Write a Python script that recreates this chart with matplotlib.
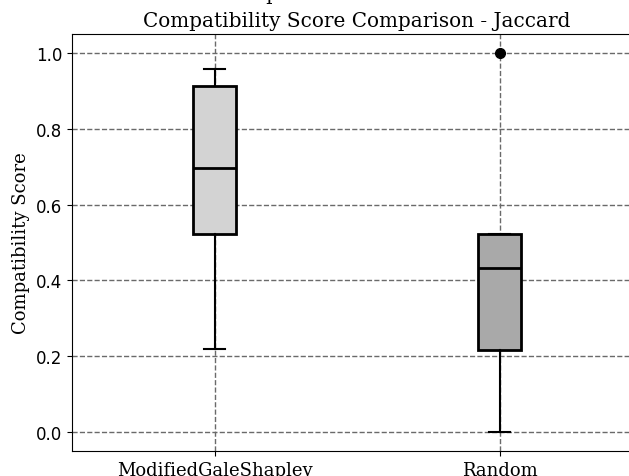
import matplotlib
matplotlib.use('Agg')
import matplotlib.pyplot as plt

# box statistics per algorithm
algorithms = ['ModifiedGaleShapley', 'Random']
q1 = [0.522, 0.216]
medians = [0.697, 0.434]
q3 = [0.914, 0.522]
whisker_low = [0.218, 0.0]
whisker_high = [0.958, 0.522]
outliers = [[], [1.0]]
box_colors = ['lightgray', 'darkgray']

stats = []
for i, name in enumerate(algorithms):
    stats.append({'label': name, 'q1': q1[i], 'med': medians[i], 'q3': q3[i],
                  'whislo': whisker_low[i], 'whishi': whisker_high[i],
                  'fliers': outliers[i]})

fig = plt.figure(figsize=(6.29, 4.77), dpi=100)
ax = fig.add_axes([0.1145, 0.0524, 0.9062, 0.8742])

bp = ax.bxp(stats, widths=0.15, patch_artist=True,
            boxprops=dict(linewidth=2, edgecolor='black'),
            medianprops=dict(color='black', linewidth=2),
            whiskerprops=dict(color='black', linewidth=1.5),
            capprops=dict(color='black', linewidth=1.5),
            flierprops=dict(marker='o', markerfacecolor='black',
                            markeredgecolor='black', markersize=7))
for patch, c in zip(bp['boxes'], box_colors):
    patch.set_facecolor(c)

ax.set_xlim(0.5, 2.5)
ax.set_ylim(-0.05, 1.05)
ax.grid(True, linestyle='--', color='#6a6a6a', linewidth=1.0)
ax.set_axisbelow(True)

# upper title line sits right at the top edge of the figure
fig.text(0.35, 0.999, 'Comparison of Mechanisms', family='DejaVu Serif',
         fontsize=14.4, ha='left', va='baseline')
ax.set_title('Compatibility Score Comparison - Jaccard',
             family='DejaVu Serif', fontsize=14.4)
ax.set_ylabel('Compatibility Score', family='DejaVu Serif', fontsize=13)
ax.tick_params(axis='y', labelsize=12)
for lbl in ax.get_xticklabels():
    lbl.set_family('DejaVu Serif')
    lbl.set_fontsize(13)

fig.savefig('out.png', dpi=100)
